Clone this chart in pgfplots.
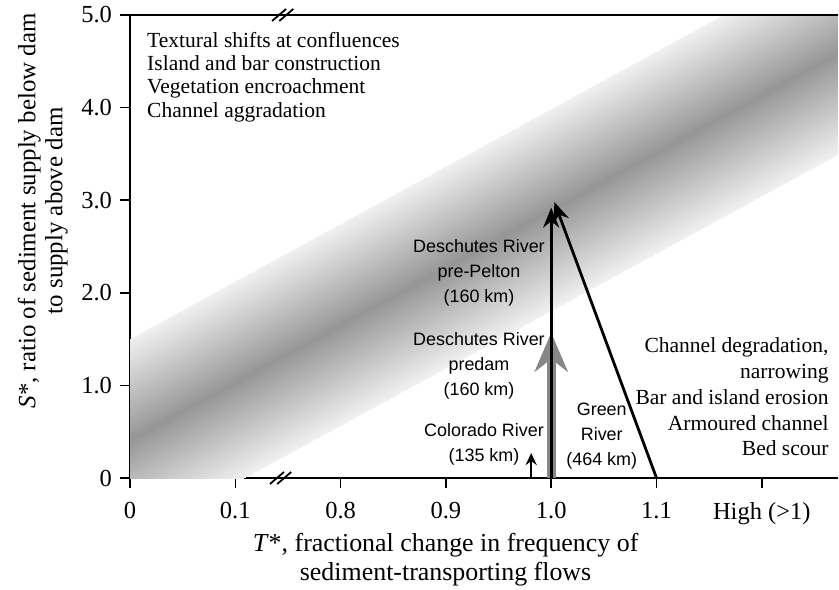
\documentclass[border=0pt]{standalone}
\usepackage{fontspec}
\setmainfont{Liberation Serif}
\newfontfamily\arial{Liberation Sans}
\usepackage{pgfplots}
\pgfplotsset{compat=1.18}
\usetikzlibrary{arrows.meta}

\begin{document}
\begin{tikzpicture}
\begin{axis}[
  x=52.65bp, y=46.3bp,
  xmin=0, xmax=6.72, ymin=0, ymax=5,
  axis x line=bottom, axis y line=left,
  axis line style={-, line width=1bp, black},
  tick style={line width=0.8bp, black},
  tick align=outside, major tick length=5bp,
  xtick={0,1,2,3,4,5,6},
  xticklabels={0,0.1,0.8,0.9,1.0,1.1,High (>1)},
  ytick={0,1,2,3,4,5},
  yticklabels={0,1.0,2.0,3.0,4.0,5.0},
  tick label style={font=\fontsize{12.3}{14}\selectfont},
  xticklabel style={yshift=-3.5bp},
  yticklabel style={xshift=-0.5bp},
  /pgf/number format/assume math mode=true,
  xlabel={\textit{T}*, fractional change in frequency of\\sediment-transporting flows},
  ylabel={\textit{S}*, ratio of sediment supply below dam\\to supply above dam},
  xlabel style={at={(ticklabel cs:0.446)}, anchor=north, align=center, font=\fontsize{13}{14.5}\selectfont, yshift=2.5bp},
  ylabel style={at={(ticklabel cs:0.577)}, anchor=south, align=center, font=\fontsize{12.5}{13.5}\selectfont},
  colormap={band}{rgb255=(240,240,240) rgb255=(150,150,150)},
  point meta min=0, point meta max=1,
  clip=true,
]
% shaded band
\addplot[patch, patch type=rectangle, shader=interp, point meta=explicit, forget plot] coordinates {
(-1,-1.29) [0] (8,4.29) [0] (8,5.38) [1] (-1,-0.20) [1]
(-1,-0.20) [1] (8,5.38) [1] (8,6.47) [0] (-1,0.89) [0]
};
% arrows
\addplot[color={rgb,255:red,135;green,135;blue,135}, line width=4.5bp, -{Stealth[length=19.5bp, width=16.5bp]}, forget plot] coordinates {(4,0) (4,1.57)};
\addplot[black, line width=1.4bp, -{Stealth[length=10bp, width=8bp]}, forget plot] coordinates {(4,0) (4,2.92)};
\addplot[black, line width=1.4bp, -{Stealth[length=10bp, width=8bp]}, forget plot] coordinates {(5,0) (4.03,2.98)};
\addplot[black, line width=1.1bp, -{Stealth[length=6bp, width=5.5bp]}, forget plot] coordinates {(3.81,0) (3.81,0.27)};

% serif annotations
\begin{scope}[every node/.style={font=\fontsize{10.8}{12}\selectfont, inner sep=0pt}]
\node[anchor=base west] at (axis cs:0.16,4.654) {Textural shifts at confluences};
\node[anchor=base west] at (axis cs:0.16,4.401) {Island and bar construction};
\node[anchor=base west] at (axis cs:0.16,4.147) {Vegetation encroachment};
\node[anchor=base west] at (axis cs:0.16,3.893) {Channel aggradation};
\node[anchor=base east] at (axis cs:6.638,1.350) {Channel degradation,};
\node[anchor=base east] at (axis cs:6.638,1.072) {narrowing};
\node[anchor=base east] at (axis cs:6.638,0.799) {Bar and island erosion};
\node[anchor=base east] at (axis cs:6.638,0.518) {Armoured channel};
\node[anchor=base east] at (axis cs:6.638,0.238) {Bed scour};
\end{scope}
% sans annotations
\begin{scope}[every node/.style={font=\arial\fontsize{9}{11}\selectfont, inner sep=0pt, anchor=base}]
\node at (axis cs:3.314,2.430) {Deschutes River};
\node at (axis cs:3.314,2.160) {pre-Pelton};
\node at (axis cs:3.314,1.890) {(160 km)};
\node at (axis cs:3.314,1.436) {Deschutes River};
\node at (axis cs:3.314,1.166) {predam};
\node at (axis cs:3.314,0.886) {(160 km)};
\node at (axis cs:3.362,0.443) {Colorado River};
\node at (axis cs:3.362,0.173) {(135 km)};
\node at (axis cs:4.48,0.680) {Green};
\node at (axis cs:4.48,0.410) {River};
\node at (axis cs:4.48,0.140) {(464 km)};
\end{scope}

\coordinate (O) at (axis cs:0,0);
\coordinate (TL) at (axis cs:0,5);
\coordinate (TR) at (axis cs:6.72,5);
\coordinate (BB) at (axis cs:1.43,0);
\coordinate (BT) at (axis cs:1.45,5);
\end{axis}
% top line
\draw[line width=1bp] (TL) -- (TR);
% break marks
\foreach \p in {BB,BT}{
  \draw[line width=0.9bp] ([xshift=-5.3bp,yshift=-3bp]\p) -- ++(7bp,6bp);
  \draw[line width=0.9bp] ([xshift=-1.7bp,yshift=-3bp]\p) -- ++(7bp,6bp);
}
\pgfresetboundingbox
\path[use as bounding box] ([xshift=-65bp,yshift=-56bp]O) rectangle ++(419.5bp,295bp);
\end{tikzpicture}
\end{document}
